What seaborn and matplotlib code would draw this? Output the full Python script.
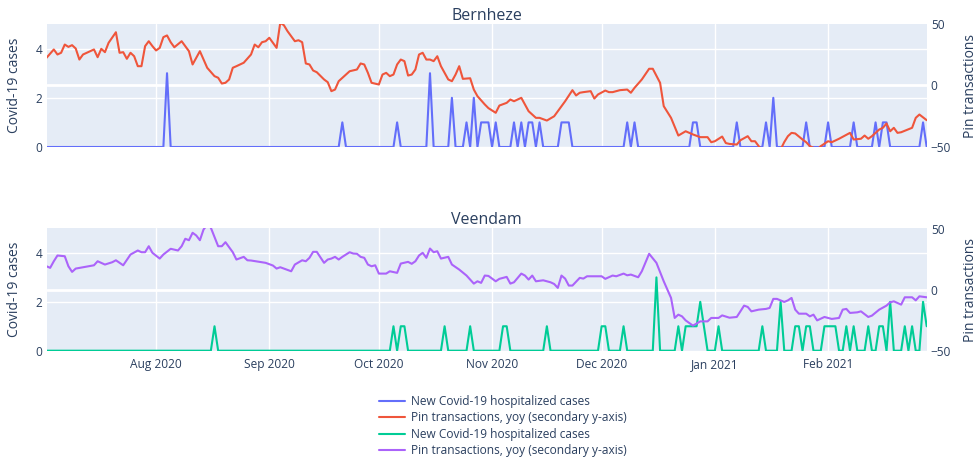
import pandas as pd
import matplotlib
matplotlib.use("Agg")
import matplotlib.pyplot as plt
import matplotlib.dates as mdates
import seaborn as sns

# day numbers are counted from 2020-07-02
START = pd.Timestamp("2020-07-02")
END = pd.Timestamp("2021-02-28")

# Bernheze
bern_hosp_day = [33, 81, 96, 105, 111, 115, 117, 119, 120, 121, 123, 128, 130, 132,
                 133, 135, 141, 142, 143, 159, 161, 177, 178, 189, 197, 199, 208,
                 214, 221, 227, 229, 230, 240]
bern_hosp_count = [3, 1, 1, 3, 2, 1, 2, 1, 1, 1, 1, 1, 1, 1,
                   1, 1, 1, 1, 1, 1, 1, 1, 1, 1, 1, 2, 1,
                   1, 1, 1, 1, 1, 1]

bern_pin_day = [0, 2, 3, 4, 5, 6, 7, 8, 9, 10, 13, 14, 15, 16, 17, 19, 20, 21, 22, 23,
                24, 25, 26, 27, 28, 29, 30, 31, 32, 33, 34, 35, 37, 39, 40, 42, 44, 46,
                47, 48, 49, 50, 51, 52, 54, 56, 57, 58, 59, 60, 61, 63, 64, 65, 66, 68,
                69, 70, 71, 72, 73, 74, 76, 77, 78, 79, 80, 82, 83, 85, 86, 87, 88, 89,
                91, 92, 93, 94, 95, 96, 97, 98, 99, 100, 101, 102, 103, 104, 105, 106,
                107, 108, 110, 111, 112, 113, 114, 116, 117, 118, 120, 121, 123, 124,
                126, 127, 128, 130, 131, 132, 134, 135, 137, 139, 141, 142, 144, 145,
                146, 147, 149, 150, 151, 153, 154, 155, 157, 159, 160, 161, 163, 165,
                166, 168, 169, 171, 173, 175, 177, 179, 181, 182, 183, 185, 186, 187,
                189, 190, 192, 193, 194, 195, 196, 199, 201, 202, 203, 204, 205, 207,
                208, 209, 211, 212, 214, 215, 217, 218, 220, 221, 223, 224, 225, 226,
                228, 229, 230, 231, 232, 233, 234, 237, 238, 239, 241]
bern_pin = [22.5, 29.3, 25.2, 26.6, 33.3, 31.4, 32.8, 30.1, 21.1, 25.2, 29.3, 23.0, 29.8,
            27.1, 34.7, 43.3, 26.6, 27.1, 21.7, 26.6, 23.8, 15.7, 15.7, 32.0, 36.0, 32.0,
            28.5, 30.6, 39.3, 40.7, 35.2, 31.1, 36.0, 27.9, 17.1, 27.9, 14.4, 7.6, 6.3,
            1.6, 2.2, 4.9, 14.4, 15.7, 18.5, 25.2, 33.3, 31.1, 35.2, 36.0, 38.8, 30.6,
            51.0, 49.0, 44.1, 36.0, 36.8, 35.2, 17.9, 17.1, 12.2, 10.8, 4.9, 2.7, -4.6,
            -3.3, 3.5, 8.9, 11.6, 13.0, 17.9, 17.1, 10.3, 2.2, 0.8, 8.9, 10.3, 7.6, 8.9,
            17.1, 21.1, 19.8, 8.1, 8.9, 13.0, 25.2, 26.6, 21.1, 21.1, 19.8, 23.8, 15.7,
            4.9, 3.5, 8.9, 15.7, 5.4, 5.9, -3.3, -8.7, -15.4, -18.4, -22.2, -16.3, -14.1,
            -11.4, -12.8, -10.0, -15.4, -20.9, -26.3, -26.3, -28.5, -25.0, -16.8, -12.8,
            -3.8, -8.1, -5.9, -5.4, -4.6, -10.6, -7.3, -4.1, -5.4, -5.4, -3.8, -3.3, -5.9,
            -1.9, 4.9, 13.6, 13.6, 2.2, -16.8, -26.3, -40.7, -37.2, -39.8, -42.0, -42.0,
            -46.1, -45.3, -41.5, -46.8, -47.5, -48.0, -44.5, -41.2, -45.3, -45.3, -49.3,
            -53.0, -55.0, -52.0, -46.0, -41.2, -38.5, -39.0, -43.9, -46.1, -49.3, -52.0,
            -49.3, -45.3, -46.1, -43.3, -41.7, -38.5, -43.9, -43.3, -40.7, -43.3, -41.2,
            -35.8, -34.4, -30.9, -37.2, -34.4, -38.5, -38.0, -34.4, -26.3, -23.6, -28.2]

# Veendam
veen_hosp_day = [46, 95, 97, 98, 109, 116, 125, 126, 137, 152, 153, 158, 167, 173, 175,
                 176, 177, 178, 179, 180, 184, 196, 201, 205, 206, 208, 209, 213, 214,
                 215, 216, 219, 221, 225, 228, 229, 231, 235, 237, 240, 241]
veen_hosp_count = [1, 1, 1, 1, 1, 1, 1, 1, 1, 1, 1, 1, 3, 1, 1,
                   1, 1, 1, 2, 1, 1, 1, 2, 1, 1, 1, 1, 1, 1,
                   1, 1, 1, 1, 1, 1, 1, 2, 1, 1, 2, 1]

veen_pin_day = [0, 1, 2, 3, 5, 6, 7, 8, 13, 14, 16, 18, 19, 21, 23, 25, 26, 27, 28, 29,
                31, 32, 34, 36, 37, 38, 39, 40, 41, 42, 43, 44, 45, 47, 48, 49, 51, 52,
                54, 55, 56, 60, 62, 63, 64, 67, 68, 70, 71, 72, 73, 74, 76, 77, 78, 79,
                80, 81, 83, 84, 85, 86, 87, 88, 89, 90, 91, 93, 94, 96, 97, 99, 100, 101,
                102, 103, 104, 105, 106, 107, 108, 110, 111, 113, 115, 117, 118, 119, 120,
                121, 123, 124, 126, 127, 128, 130, 131, 132, 133, 134, 136, 138, 139, 140,
                141, 142, 143, 144, 146, 147, 148, 152, 153, 155, 156, 158, 159, 160, 162,
                163, 165, 167, 169, 171, 172, 173, 174, 175, 177, 179, 181, 182, 184, 185,
                187, 189, 190, 191, 192, 193, 195, 197, 198, 199, 200, 202, 203, 204, 205,
                206, 208, 209, 210, 211, 212, 213, 215, 217, 218, 219, 220, 222, 223, 225,
                226, 228, 230, 231, 232, 234, 235, 237, 238, 239, 241]
veen_pin = [19.1, 17.8, 23.2, 27.9, 27.3, 19.1, 14.5, 17.2, 19.9, 23.2, 20.5, 22.4, 24.0,
            19.9, 28.7, 32.0, 30.6, 30.6, 35.5, 30.1, 25.4, 28.7, 33.4, 32.0, 35.5, 41.6,
            40.4, 46.5, 44.3, 40.4, 49.2, 53.0, 50.6, 35.5, 35.5, 38.8, 30.6, 24.6, 26.8,
            24.0, 23.8, 21.9, 19.7, 17.2, 18.3, 15.0, 20.5, 24.0, 23.2, 26.0, 30.9, 30.9,
            21.9, 24.6, 25.4, 26.8, 24.6, 26.8, 30.6, 29.5, 29.3, 26.8, 26.0, 20.5, 19.1,
            19.9, 13.1, 13.1, 15.0, 13.7, 21.3, 22.7, 21.1, 23.2, 27.9, 30.1, 26.0, 33.6,
            30.6, 31.4, 25.4, 26.8, 20.5, 16.4, 11.5, 4.9, 6.8, 5.5, 11.5, 11.2, 6.8, 8.8,
            10.4, 4.9, 6.0, 13.1, 11.5, 8.2, 11.5, 6.8, 7.6, 6.0, 4.6, 1.4, 11.5, 9.0, 3.3,
            3.3, 9.6, 9.0, 10.9, 10.9, 8.8, 11.5, 10.9, 13.1, 11.7, 12.3, 10.1, 15.0, 29.3,
            21.9, 6.8, -6.8, -23.2, -20.5, -21.9, -25.2, -29.5, -26.0, -26.0, -23.2, -23.2,
            -21.1, -23.0, -22.4, -17.8, -13.1, -14.2, -17.8, -16.4, -15.8, -15.0, -7.6,
            -7.6, -10.1, -8.8, -6.8, -16.4, -19.7, -19.7, -21.9, -20.5, -25.2, -23.8,
            -22.4, -24.0, -23.2, -16.4, -15.8, -19.1, -18.6, -17.8, -22.4, -21.3, -16.4,
            -13.1, -10.4, -9.6, -12.3, -6.3, -6.3, -8.8, -5.5, -6.3]

months = ["2020-08-01", "2020-09-01", "2020-10-01", "2020-11-01",
          "2020-12-01", "2021-01-01", "2021-02-01"]

TEXT = "#2a3f5f"
BG = "#E5ECF6"
HOSP_LABEL = "New Covid-19 hospitalized cases"
PIN_LABEL = "Pin transactions, yoy (secondary y-axis)"


def to_dates(days):
    return START + pd.to_timedelta(days, unit="D")


def daily_counts(days, counts):
    s = pd.Series(0.0, index=pd.date_range(START, END, freq="D"))
    s.loc[to_dates(days)] = counts
    return s


def draw_panel(ax, title, hosp_days, hosp_counts, pin_days, pin_vals, hosp_color, pin_color):
    ax.set_facecolor(BG)
    hosp = daily_counts(hosp_days, hosp_counts)
    sns.lineplot(x=hosp.index, y=hosp.values, ax=ax, color=hosp_color,
                 linewidth=1.5, label=HOSP_LABEL, legend=False)
    ax.set_ylim(0, 5)
    ax.set_yticks([0, 2, 4])
    ax.grid(True, color="white", linewidth=1)
    ax.set_axisbelow(True)
    # zero line of the secondary axis (right 0 sits at 2.5 on the left scale)
    ax.axhline(2.5, color="white", linewidth=2, zorder=0.6)

    ax2 = ax.twinx()
    sns.lineplot(x=to_dates(pin_days), y=pin_vals, ax=ax2, color=pin_color,
                 linewidth=1.5, label=PIN_LABEL, legend=False)
    ax2.set_ylim(-50, 50)
    ax2.set_yticks([-50, 0, 50])
    ax2.grid(False)

    for a in (ax, ax2):
        for sp in a.spines.values():
            sp.set_visible(False)
        a.tick_params(length=0, labelsize=8.6, colors=TEXT, pad=3)

    ax.set_ylabel("Covid-19 cases", fontsize=10, color=TEXT)
    ax.yaxis.set_label_coords(-0.028, 0.5)
    ax2.set_ylabel("Pin transactions", fontsize=10, color=TEXT)
    ax2.yaxis.set_label_coords(1.041, 0.5)
    ax.set_title(title, fontsize=11.5, color=TEXT, pad=2.5)

    ax.set_xlim(START, END)
    ax.set_xticks(pd.to_datetime(months))
    ax.xaxis.set_major_formatter(mdates.DateFormatter("%b %Y"))
    ax.tick_params(axis="x", pad=5)
    ax.set_xlabel("")
    return ax2


def main():
    sns.set_style("white")
    plt.rcParams["font.family"] = ["Open Sans", "DejaVu Sans"]
    plt.rcParams["axes.unicode_minus"] = True

    fig = plt.figure(figsize=(9.8, 4.61), dpi=100)
    ax_top = fig.add_axes([46.5 / 980, 1 - 147 / 461, 880.2 / 980, 123 / 461])
    ax_bot = fig.add_axes([46.5 / 980, 1 - 350.7 / 461, 880.2 / 980, 122.2 / 461])

    top2 = draw_panel(ax_top, "Bernheze", bern_hosp_day, bern_hosp_count,
                      bern_pin_day, bern_pin, "#636efa", "#EF553B")
    bot2 = draw_panel(ax_bot, "Veendam", veen_hosp_day, veen_hosp_count,
                      veen_pin_day, veen_pin, "#00cc96", "#ab63fa")
    ax_top.tick_params(axis="x", labelbottom=False)

    handles, labels = [], []
    for a in (ax_top, top2, ax_bot, bot2):
        h, l = a.get_legend_handles_labels()
        handles += h
        labels += l

    fig.legend(handles, labels, loc="upper left", bbox_to_anchor=(379 / 980, 1 - 395 / 461),
               frameon=False, fontsize=8.6, handlelength=2.2, handletextpad=0.45,
               labelspacing=0.28, borderpad=0, borderaxespad=0, labelcolor=TEXT)

    fig.savefig("out.png", dpi=100)


if __name__ == "__main__":
    main()
